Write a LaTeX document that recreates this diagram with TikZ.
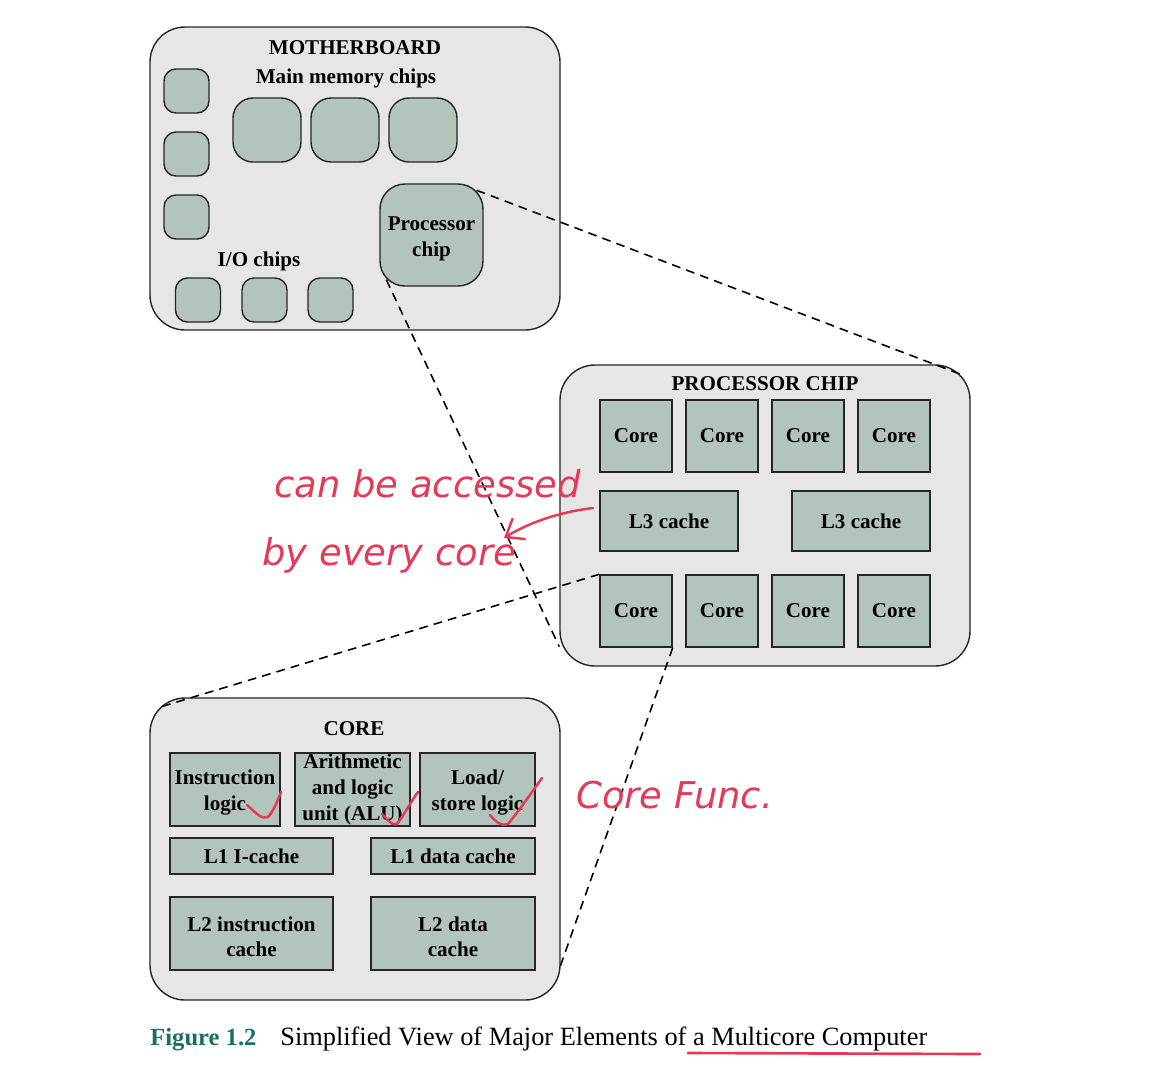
\documentclass[tikz,border=0pt]{standalone}
\usepackage{fontspec}
\setmainfont{Liberation Serif}
\newfontfamily\handfont{DejaVu Sans}
\usepackage{xcolor}
\usepackage{tikz}
\usetikzlibrary{arrows.meta}

\definecolor{boardgray}{HTML}{E6E6E6}
\definecolor{chipgreen}{HTML}{B2C4BC}
\definecolor{inkred}{HTML}{E43A55}
\definecolor{figteal}{HTML}{1C6E5E}

\tikzset{
    sized/.style 2 args={minimum width=#1*0.02cm, minimum height=#2*0.02cm},
    board/.style={draw=black!85, fill=boardgray, line width=0.8pt, rounded corners=0.7cm, inner sep=0pt},
    title/.style={font=\bfseries\fontsize{12}{14.7}\selectfont, inner sep=0pt},
    smallchip/.style={draw=black!85, fill=chipgreen, line width=0.8pt, rounded corners=0.24cm, sized={45}{44}},
    memchip/.style={draw=black!85, fill=chipgreen, line width=0.8pt, rounded corners=0.4cm, sized={68}{64}},
    procchip/.style={draw=black!85, fill=chipgreen, line width=0.8pt, rounded corners=0.5cm, sized={103}{102},
        font=\bfseries\fontsize{12}{14.7}\selectfont, align=center, inner sep=0pt},
    unit/.style={draw=black!85, fill=chipgreen, line width=0.8pt, inner sep=0pt,
        font=\bfseries\fontsize{12}{14.7}\selectfont, align=center},
    core/.style={unit, sized={72}{72}},
    zoomline/.style={draw=black, line width=0.9pt, dash pattern=on 5pt off 3.5pt},
    hand/.style={text=inkred, font=\handfont\itshape\fontsize{21}{25}\selectfont, inner sep=0pt},
    inkline/.style={draw=inkred, line width=1.4pt, line cap=round, line join=round}
}

\begin{document}
\begin{tikzpicture}[x=0.02cm, y=-0.02cm]
    \useasboundingbox (0,0) rectangle (1150,1080);

    % motherboard
    \node[board, sized={410}{303}] (mboard) at (355,178.5) {};
    \node[title] (mbtitle) at (355,48) {MOTHERBOARD};
    \node[title] (memtitle) at (346,78) {Main memory chips};
    \foreach \y [count=\i] in {91,154,217}
        \node[smallchip] (side\i) at (186.5,\y) {};
    \foreach \x [count=\i] in {267,345,423}
        \node[memchip] (mem\i) at (\x,130) {};
    \node[procchip] (proc) at (431.5,235) {\rule{0pt}{12pt}Processor\\chip};
    \node[title] (iotitle) at (259,261) {I/O chips};
    \foreach \x [count=\i] in {198,264.5,330.5}
        \node[smallchip] (io\i) at (\x,300) {};

    % processor chip
    \node[board, sized={410}{301}] (pbox) at (765,515.5) {};
    \node[title] (pbtitle) at (765,384) {PROCESSOR CHIP};
    \foreach \x [count=\i] in {636,722,808,894} {
        \node[core] (topcore\i) at (\x,436) {Core};
        \node[core] (botcore\i) at (\x,611) {Core};
    }
    \node[unit, sized={138}{60}] (lthreeA) at (669,521) {L3 cache};
    \node[unit, sized={138}{60}] (lthreeB) at (861,521) {L3 cache};

    % core
    \node[board, sized={410}{302}] (cbox) at (355,849) {};
    \node[title] (cbtitle) at (354,729) {CORE};
    \node[unit, sized={110}{73}] (ilogic) at (225,789.5) {\rule{0pt}{12pt}Instruction\\logic};
    \node[unit, sized={115}{73}] (alu) at (352.5,789.5) {Arithmetic\\and logic\\unit (ALU)};
    \node[unit, sized={115}{73}] (lslogic) at (477.5,789.5) {\rule{0pt}{12pt}Load/\\store logic};
    \node[unit, sized={163}{36}] (loneI) at (251.5,856) {L1 I-cache};
    \node[unit, sized={164}{36}] (loneD) at (453,856) {L1 data cache};
    \node[unit, sized={163}{73}] (ltwoI) at (251.5,933.5) {\rule{0pt}{12pt}L2 instruction\\cache};
    \node[unit, sized={164}{73}] (ltwoD) at (453,933.5) {\rule{0pt}{12pt}L2 data\\cache};

    % zoom lines
    \draw[zoomline] ([shift={(-7,7)}]proc.north east) -- ([shift={(-10,10)}]pbox.north east);
    \draw[zoomline] ([shift={(7,-7)}]proc.south west) -- ([shift={(0,-20)}]pbox.south west);
    \draw[zoomline] (botcore1.north west) -- ([shift={(10,10)}]cbox.north west);
    \draw[zoomline] (botcore1.south east) -- ([shift={(-2,-30)}]cbox.south east);

    % handwritten notes
    \node[hand, anchor=base west] (noteA) at (274,497) {can be accessed};
    \node[hand, anchor=base west] (noteB) at (262,565) {by every core};
    \node[hand, anchor=base west] (noteC) at (576,808) {Core Func.};
    \coordinate (arrtail) at (593,508);
    \coordinate (arrhead) at (504,538);
    \draw[inkline, -{Straight Barb[length=9pt, width=14pt]}] (arrtail) .. controls (560,512) and (530,522) .. (arrhead);
    \draw[inkline] (247,805) .. controls (256,813) and (262,820) .. (268,817) .. controls (273,812) and (278,800) .. (281,792);
    \draw[inkline] (382,814) .. controls (388,820) and (392,826) .. (397,824) .. controls (404,815) and (412,800) .. (418,792);
    \draw[inkline] (490,815) .. controls (496,822) and (502,827) .. (508,824) .. controls (518,812) and (532,792) .. (542,778);

    % caption
    \node[anchor=base west, inner sep=0pt, text=figteal, font=\bfseries\fontsize{14}{16}\selectfont] (figno) at (150,1045) {Figure 1.2};
    \node[anchor=base west, inner sep=0pt, font=\fontsize{15}{18}\selectfont] (figtext) at (280,1045) {Simplified View of Major Elements of a Multicore Computer};
    \draw[inkline, line width=1.5pt] (688,1053) -- (980,1054);
\end{tikzpicture}
\end{document}
